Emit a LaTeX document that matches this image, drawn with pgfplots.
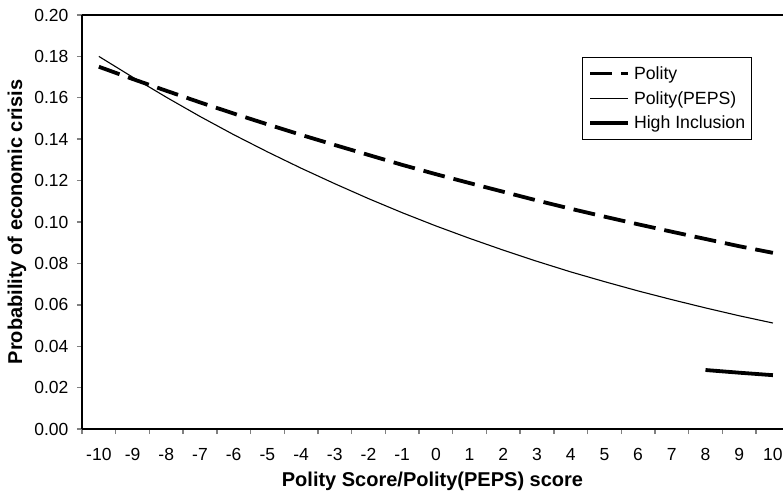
\documentclass[border=0pt]{standalone}
\usepackage{fontspec}
\setmainfont{Liberation Sans}
\usepackage{pgfplots}
\pgfplotsset{compat=1.18}
\begin{document}
\begin{tikzpicture}[x=1pt,y=1pt]
\path[use as bounding box] (-82,-66) rectangle (701,429);
\begin{axis}[
  at={(0,0)}, anchor=south west,
  scale only axis, width=701pt, height=414pt,
  xmin=-10.5, xmax=10.3, ymin=0, ymax=0.2,
  axis x line*=box, axis y line*=left,
  xtick pos=bottom, ytick pos=left,
  axis line style={line width=1.6pt},
  tick align=outside,
  xtick={-10,...,10},
  major x tick style={draw=none},
  minor xtick={-10.5,-9.5,...,9.5},
  minor x tick style={line width=1.4pt},
  minor tick length=5pt,
  ytick={0,0.02,...,0.2},
  major y tick style={line width=1.4pt},
  major tick length=5pt,
  yticklabel style={/pgf/number format/fixed,/pgf/number format/fixed zerofill,/pgf/number format/precision=2, xshift=-5pt},
  /pgf/number format/assume math mode=true,
  tick label style={font=\fontsize{17.5}{20}\selectfont},
  xticklabel style={yshift=-11pt},
  xlabel={\textbf{Polity Score/Polity(PEPS) score}},
  ylabel={\textbf{Probability of economic crisis}},
  label style={font=\fontsize{20}{22}\selectfont},
  xlabel style={at={(axis description cs:0.5,0)}, anchor=center, yshift=-52pt},
  ylabel style={at={(axis description cs:0,0.5)}, anchor=center, yshift=65pt},
  legend style={at={(axis description cs:0.713,0.8986)}, anchor=north west, draw=black, line width=0.8pt,
    font=\fontsize{17.7}{20}\selectfont, inner xsep=4pt, inner ysep=7pt, row sep=6.5pt,
    /tikz/every even column/.append style={column sep=2pt}},
  legend cell align=left,
  legend image code/.code={\draw[#1] (2pt,0pt) -- (40pt,0pt); \path (0pt,0pt) (42pt,0pt);},
]
\addplot[black, line width=3.8pt, dash pattern=on 22pt off 9pt] coordinates {
(-10,0.1750) (-9,0.1691) (-8,0.1634) (-7,0.1578) (-6,0.1524) (-5,0.1472)
(-4,0.1421) (-3,0.1372) (-2,0.1324) (-1,0.1276) (0,0.1231) (1,0.1188)
(2,0.1146) (3,0.1104) (4,0.1064) (5,0.1026) (6,0.0989) (7,0.0953)
(8,0.0918) (9,0.0883) (10,0.0851)};
\addlegendentry{Polity}
\addplot[black, line width=1.1pt] coordinates {
(-10,0.1800) (-9,0.1700) (-8,0.1603) (-7,0.1510) (-6,0.1422) (-5,0.1339)
(-4,0.1260) (-3,0.1185) (-2,0.1113) (-1,0.1045) (0,0.0981) (1,0.0921)
(2,0.0864) (3,0.0810) (4,0.0759) (5,0.0712) (6,0.0667) (7,0.0625)
(8,0.0585) (9,0.0547) (10,0.0512)};
\addlegendentry{Polity(PEPS)}
\addplot[black, line width=3.8pt] coordinates {
(8,0.0285) (9,0.0272) (10,0.0260)};
\addlegendentry{High Inclusion}
\end{axis}
\end{tikzpicture}
\end{document}
